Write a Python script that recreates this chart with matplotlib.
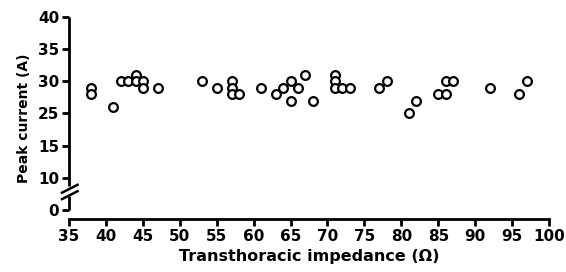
import matplotlib
matplotlib.use("Agg")
import matplotlib.pyplot as plt

# impedance (ohm) and peak current (A)
impedance = [38, 38, 41, 42, 43, 44, 44, 45, 45, 47,
             53, 55, 57, 57, 57, 58, 61, 63, 64, 65,
             65, 66, 67, 68, 71, 71, 71, 72, 73, 77,
             78, 81, 82, 85, 86, 86, 87, 92, 96, 97]
current = [29, 28, 26, 30, 30, 31, 30, 30, 29, 29,
           30, 29, 30, 29, 28, 28, 29, 28, 29, 30,
           27, 29, 31, 27, 31, 30, 29, 29, 29, 29,
           30, 25, 27, 28, 28, 30, 30, 29, 28, 30]

x_ticks = list(range(35, 101, 5))
# broken y axis: evenly spaced tick positions carry these labels
y_tick_pos = [40, 35, 30, 25, 20, 15, 10]
y_tick_labels = ["40", "35", "30", "25", "15", "10", "0"]

plt.rcParams['font.family'] = ['DejaVu Sans']
plt.rcParams['font.weight'] = 'bold'

fig = plt.figure(figsize=(5.66, 2.72), dpi=100)
ax = fig.add_axes([0.122, 0.195, 0.848, 0.7425])

ax.plot(impedance, current, 'o', mfc='white', mec='black', ms=6.3, mew=1.6,
        clip_on=False, zorder=3)

ax.set_xlim(35, 100)
ax.set_ylim(8.6, 40)

for s in ['top', 'right']:
    ax.spines[s].set_visible(False)
ax.spines['bottom'].set_linewidth(2)
ax.spines['left'].set_linewidth(2)
ax.spines['left'].set_bounds(13.7, 40)
ax.spines['left'].set_capstyle('butt')

# lower stub of the y axis below the break
ax.plot([35, 35], [10, 12.2], color='black', lw=2, clip_on=False, solid_capstyle='butt')
# break marks
for dy in [0, 1.0]:
    ax.plot([33.9, 36.3], [11.6 + dy, 13.0 + dy], color='black', lw=1.8,
            clip_on=False, solid_capstyle='butt')

ax.set_xticks(x_ticks)
ax.set_xticklabels([str(t) for t in x_ticks])
ax.set_yticks(y_tick_pos)
ax.set_yticklabels(y_tick_labels)
ax.tick_params(direction='out', length=5, width=2, labelsize=11, pad=2)

ax.set_xlabel("Transthoracic impedance (Ω)", fontsize=11.5, fontweight='bold', labelpad=4)
ax.set_ylabel("Peak current (A)", fontsize=10, fontweight='bold', labelpad=5)

fig.savefig("out.png", dpi=100)
